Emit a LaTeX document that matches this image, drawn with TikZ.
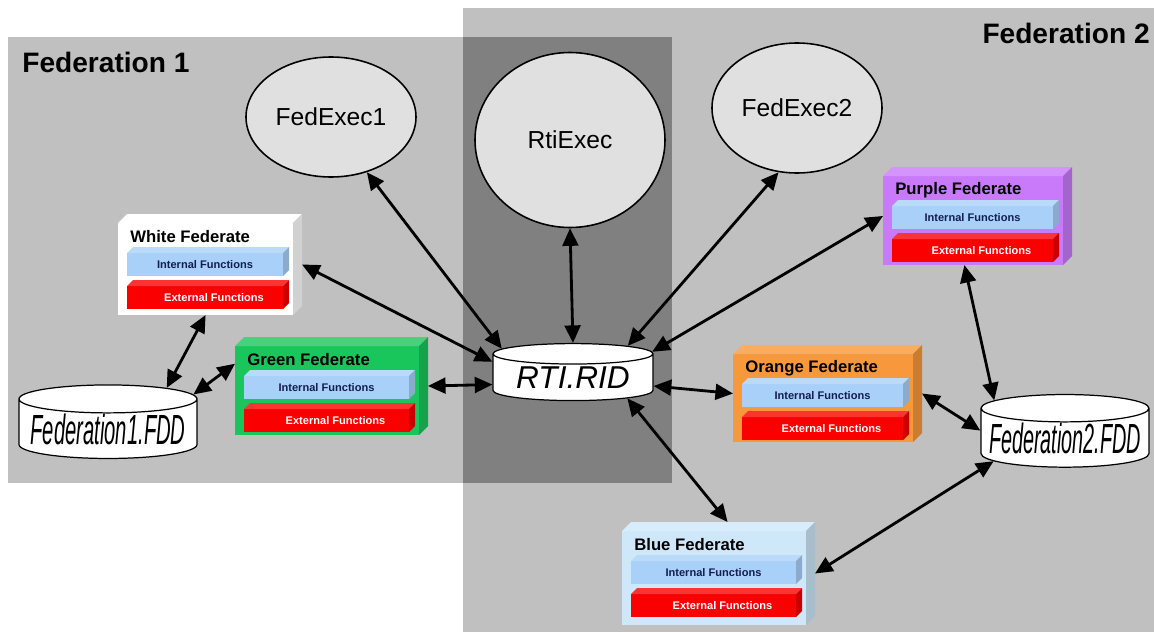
\documentclass[tikz,border=0pt]{standalone}
\usepackage{fontspec}
\setmainfont{Liberation Sans}
\usepackage{graphicx}
\usepackage{tikz}
\usetikzlibrary{arrows.meta, positioning, shapes.geometric, calc}

\definecolor{fedgray}{RGB}{192,192,192}
\definecolor{overlapgray}{RGB}{128,128,128}
\definecolor{execgray}{RGB}{224,224,224}
\definecolor{fedgreen}{RGB}{25,198,92}
\definecolor{fedorange}{RGB}{247,152,60}
\definecolor{fedpurple}{RGB}{200,122,250}
\definecolor{fedblue}{RGB}{206,232,250}
\definecolor{intblue}{RGB}{168,208,248}
\definecolor{extred}{RGB}{250,0,0}
\definecolor{navy}{RGB}{20,30,80}

\newcommand{\px}{0.02cm}

% 3D slab around an existing node: node, depth, colour
\newcommand{\slab}[3]{%
  \fill[#3] (#1.south west) rectangle ($(#1.north east)+(-#2,#2)$);
  \fill[#3!80!white] ($(#1.north west)+(0,#2)$) -- ($(#1.north west)+(#2,0)$) -- (#1.north east) -- ($(#1.north east)+(-#2,#2)$) -- cycle;
  \fill[#3!82!black] ($(#1.north east)+(-#2,#2)$) -- (#1.north east) -- ($(#1.south east)+(0,-#2)$) -- ($(#1.south east)+(-#2,0)$) -- cycle;
}

% federate: name, centre, width, height, colour, title
\newcommand{\federate}[6]{%
  \node[fed, minimum width=#3*\px, minimum height=#4*\px] (#1) at #2 {};
  \slab{#1}{9}{#5}
  \node[fedtitle, anchor=west] (#1-name) at ($(#1.north west)+(12,23)$) {#6};
  \node[fed, minimum width=#3*\px-22*\px, minimum height=29*\px, anchor=north west] (#1-int) at ($(#1.north west)+(9,33)$) {};
  \slab{#1-int}{6}{intblue}
  \node[functext] (#1-inttext) at ($(#1-int.center)+(-3,3)$) {Internal Functions};
  \node[fed, minimum width=#3*\px-22*\px, minimum height=29*\px, anchor=north west] (#1-ext) at ($(#1.north west)+(9,66)$) {};
  \slab{#1-ext}{6}{extred}
  \node[functext, text=white] (#1-exttext) at ($(#1-ext.center)+(6,3)$) {External Functions};
}

\newcommand{\drumtext}[3]{\raisebox{-2pt}{\scalebox{#1}[1]{\itshape\fontsize{#2}{#2}\selectfont #3}}}

\tikzset{
  exec/.style={ellipse, draw, line width=0.9pt, fill=execgray, inner sep=0pt, font=\fontsize{14}{16}\selectfont},
  fed/.style={inner sep=0pt, outer sep=0pt},
  fedname/.style={font=\bfseries\fontsize{16}{18}\selectfont, inner sep=0pt},
  fedtitle/.style={font=\bfseries\fontsize{9.5}{11}\selectfont, inner sep=0pt},
  functext/.style={font=\bfseries\fontsize{6.3}{7}\selectfont, text=navy, inner sep=0pt},
  drum/.style={cylinder, shape border rotate=90, draw, line width=0.7pt, fill=white, aspect=0.18, inner sep=0pt},
  link/.style={{Triangle[length=10pt,width=9pt]}-{Triangle[length=10pt,width=9pt]}, line width=1.6pt},
}

\begin{document}
\begin{tikzpicture}[x=0.02cm, y=-0.02cm]
  \useasboundingbox (0,0) rectangle (1154,632);
  \fill[white] (0,0) rectangle (1154,632);

  % Federation areas
  \fill[fedgray] (8,37) rectangle (672,483);
  \fill[fedgray] (463,8) rectangle (1154,632);
  \fill[overlapgray] (463,37) rectangle (672,483);
  \node[fedname, anchor=west] (fed1) at (22,62) {Federation 1};
  \node[fedname, anchor=east] (fed2) at (1150,33) {Federation 2};

  % Executives
  \node[exec, minimum width=170*\px, minimum height=120*\px] (fe1) at (331,117) {FedExec1};
  \node[exec, minimum width=190*\px, minimum height=175*\px] (rti) at (570,140) {RtiExec};
  \node[exec, minimum width=170*\px, minimum height=130*\px] (fe2) at (797,108) {FedExec2};

  % Federates
  \federate{white}{(210,264.5)}{184}{101}{white}{White Federate}
  \federate{green}{(331.5,386)}{193}{98}{fedgreen}{Green Federate}
  \federate{orange}{(827.5,393.5)}{189}{97}{fedorange}{Orange Federate}
  \federate{purple}{(977.5,216)}{189}{98}{fedpurple}{Purple Federate}
  \federate{blue}{(718.5,573.5)}{193}{103}{fedblue}{Blue Federate}

  % Data files
  \node[drum, minimum width=178*\px, minimum height=68*\px] (fdd1) at (108,429) {\drumtext{0.48}{24}{Federation1.FDD}};
  \node[drum, minimum width=160*\px, minimum height=57*\px] (rid) at (573,377.5) {\drumtext{1}{18}{RTI.RID}};
  \node[drum, minimum width=168*\px, minimum height=67*\px] (fdd2) at (1065,438) {\drumtext{0.47}{24}{Federation2.FDD}};

  % Connections to RTI.RID
  \draw[link] (fe1.-57) -- (rid.158);
  \draw[link] (rti.south) -- (rid.north);
  \draw[link] (fe2.-106) -- (rid.30);
  \draw[link] (white.east) -- (rid.169);
  \draw[link] (purple.west) -- (rid.18);
  \draw[link] (green.east) -- (rid.185);
  \draw[link] (rid.-6) -- (orange.west);
  \draw[link] (rid.-21) -- (blue.80);

  % Connections to FDD files
  \draw[link] (white.-95) -- (fdd1.35);
  \draw[link] (green.167) -- (fdd1.22);
  \draw[link] (purple.-105) -- (fdd2.152);
  \draw[link] (orange.east) -- (fdd2.175);
  \draw[link] (blue.east) -- (fdd2.198);
\end{tikzpicture}
\end{document}
